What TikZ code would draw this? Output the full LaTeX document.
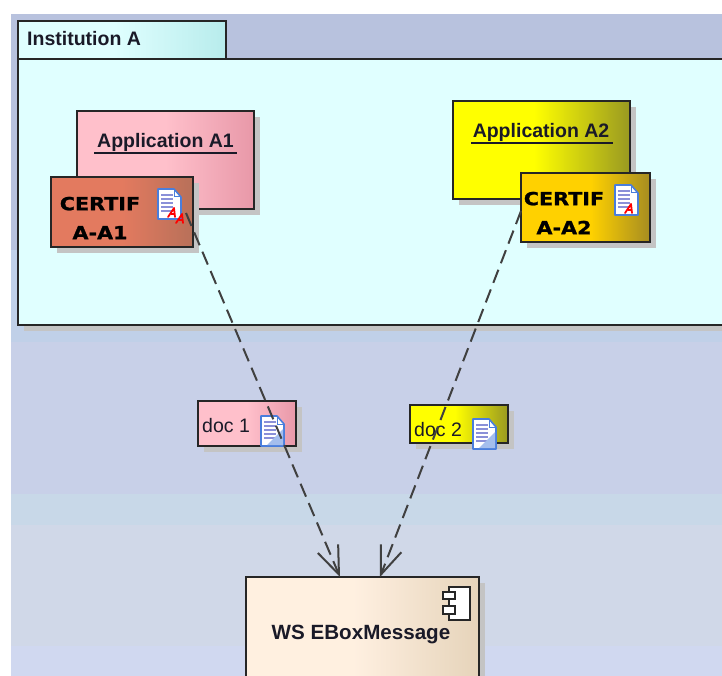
\documentclass[tikz,border=0pt]{standalone}
\usepackage{fontspec}
\setmainfont{Liberation Sans}
\newfontfamily\widefont[FakeStretch=1.15,BoldFeatures={FakeBold=1.2}]{DejaVu Sans}
\usetikzlibrary{arrows.meta,shadows,calc}
\definecolor{inkc}{HTML}{1A1A28}
\definecolor{shadowc}{HTML}{C4C4C4}
\definecolor{pageblue}{HTML}{4A7EDC}
\definecolor{pagelines}{HTML}{8A90D8}
\pgfdeclarehorizontalshading{gradpink}{100bp}{rgb(0bp)=(1,.753,.796);rgb(50bp)=(1,.753,.796);rgb(75bp)=(.91,.596,.66);rgb(100bp)=(.91,.596,.66)}
\pgfdeclarehorizontalshading{gradcert}{100bp}{rgb(0bp)=(.89,.478,.373);rgb(50bp)=(.89,.478,.373);rgb(75bp)=(.72,.44,.35);rgb(100bp)=(.72,.44,.35)}
\pgfdeclarehorizontalshading{gradyellow}{100bp}{rgb(0bp)=(1,1,0);rgb(48bp)=(1,1,0);rgb(75bp)=(.6,.6,.13);rgb(100bp)=(.6,.6,.13)}
\pgfdeclarehorizontalshading{gradgold}{100bp}{rgb(0bp)=(1,.82,0);rgb(52bp)=(1,.82,0);rgb(75bp)=(.65,.55,.13);rgb(100bp)=(.65,.55,.13)}
\pgfdeclarehorizontalshading{gradcream}{100bp}{rgb(0bp)=(1,.94,.88);rgb(48bp)=(1,.94,.88);rgb(75bp)=(.9,.83,.73);rgb(100bp)=(.9,.83,.73)}
\pgfdeclarehorizontalshading{gradcyan}{100bp}{rgb(0bp)=(.878,1,1);rgb(48bp)=(.878,1,1);rgb(75bp)=(.72,.925,.925);rgb(100bp)=(.72,.925,.925)}
\tikzset{
  x=1pt,y=-1pt,
  umlbox/.style={draw=black!85,line width=2pt,rectangle,inner sep=0pt,outer sep=0pt,
    general shadow={shadow xshift=6pt,shadow yshift=-6pt,fill=shadowc}},
  flatbox/.style={draw=black!85,line width=2pt,rectangle,inner sep=0pt,outer sep=0pt},
  titletext/.style={font=\bfseries\fontsize{19.5}{22}\selectfont,text=inkc,inner sep=0pt,anchor=base},
  certtext/.style={font=\widefont\bfseries\fontsize{18}{29}\selectfont,text=black,align=center,inner sep=0pt},
  doctext/.style={font=\fontsize{19.5}{22}\selectfont,text=inkc,inner sep=0pt,anchor=base west},
  dep/.style={draw=black!75,line width=2pt,dash pattern=on 14pt off 7pt,
    -{Straight Barb[length=28pt,width=22pt,line width=2pt]}},
  pageshape/.pic={
    \draw[pageblue,fill=white,line width=1.6pt,line join=round]
      (0,0)--(16,0)--(23,8)--(23,30)--(0,30)--cycle;
    \draw[pageblue,line width=1pt] (16,0)--(16,8)--(23,8);
    \foreach \yy in {6,10,14,18,22}{\draw[pagelines,line width=1.3pt] (3,\yy)--(15,\yy);}
  },
  pdfmark/.pic={
    \draw[red,line width=1.8pt,line cap=round,line join=round] (0,9)--(6,0)--(7,9);
    \draw[red,line width=1.2pt] (3,6)--(7,6);
  },
  docfold/.pic={
    \fill[pageblue!50] (22,13)--(22,29)--(6,29)--cycle;
  }
}
\begin{document}
\begin{tikzpicture}
\useasboundingbox (0,0) rectangle (722,676);
\clip (0,0) rectangle (722,676);
% banded background
\fill[white] (0,0) rectangle (722,676);
\fill[fill={rgb,255:red,184;green,194;blue,222}] (11,14) rectangle (722,250);
\fill[fill={rgb,255:red,192;green,208;blue,232}] (11,250) rectangle (722,342);
\fill[fill={rgb,255:red,200;green,208;blue,232}] (11,342) rectangle (722,494);
\fill[fill={rgb,255:red,200;green,216;blue,232}] (11,494) rectangle (722,525);
\fill[fill={rgb,255:red,208;green,216;blue,232}] (11,525) rectangle (722,646);
\fill[fill={rgb,255:red,208;green,216;blue,240}] (11,646) rectangle (722,676);
% package
\node[umlbox,fill={rgb,255:red,224;green,255;blue,255},minimum width=740pt,minimum height=266pt] (pkg) at (388,192) {};
\node[flatbox,shading=gradcyan,minimum width=208pt,minimum height=38pt] (tab) at (122,40) {};
\node[titletext,anchor=base west] (tabtext) at (27,46) {Institution A};
% applications
\node[umlbox,shading=gradpink,minimum width=177pt,minimum height=98pt] (appa) at (165.5,160) {};
\node[titletext] (appatext) at (165.5,148) {Application A1};
\draw[inkc,line width=1.5pt] (94,153)--(237,153);
\node[umlbox,shading=gradyellow,minimum width=177pt,minimum height=98pt] (appb) at (541.5,150) {};
\node[titletext] (appbtext) at (541,138) {Application A2};
\draw[inkc,line width=1.5pt] (471,143)--(613,143);
% certificates
\node[umlbox,shading=gradcert,minimum width=142pt,minimum height=70pt] (certa) at (122,212) {};
\node[certtext] (certatext) at (100,218) {CERTIF\\A-A1};
\pic at (158,189) {pageshape};
\pic at (168,208) {pdfmark};
\pic at (176,214) {pdfmark};
\node[umlbox,shading=gradgold,minimum width=129pt,minimum height=69pt] (certb) at (585.5,207.5) {};
\node[certtext] (certbtext) at (564,213) {CERTIF\\A-A2};
\pic at (615,185) {pageshape};
\pic at (625,204) {pdfmark};
% documents
\node[umlbox,shading=gradpink,minimum width=98pt,minimum height=45pt] (doca) at (247,423.5) {};
\node[doctext] (docatext) at (202,432) {doc 1};
\pic at (261,416) {pageshape};
\pic at (261,416) {docfold};
\node[umlbox,shading=gradyellow,minimum width=98pt,minimum height=38pt] (docb) at (459,424) {};
\node[doctext] (docbtext) at (414,436) {doc 2};
\pic at (473,419) {pageshape};
\pic at (473,419) {docfold};
% component
\node[umlbox,shading=gradcream,minimum width=233pt,minimum height=140pt] (ws) at (362.5,647) {};
\node[titletext,font=\bfseries\fontsize{20.6}{23}\selectfont] (wstext) at (361,639) {WS EBoxMessage};
\draw[black!85,fill=white,line width=1.6pt] (449,587) rectangle (470,620);
\draw[black!85,fill=white,line width=1.6pt] (443,592) rectangle (455,599);
\draw[black!85,fill=white,line width=1.6pt] (443,606) rectangle (455,614);
% connectors
\coordinate (certaout) at (186,213);
\coordinate (certbout) at (521,211);
\coordinate (wsa) at ($(ws.north west)+(94,0)$);
\coordinate (wsb) at ($(ws.north west)+(134,0)$);
\draw[dep] (certaout) -- (wsa);
\draw[dep] (certbout) -- (wsb);
\end{tikzpicture}
\end{document}
